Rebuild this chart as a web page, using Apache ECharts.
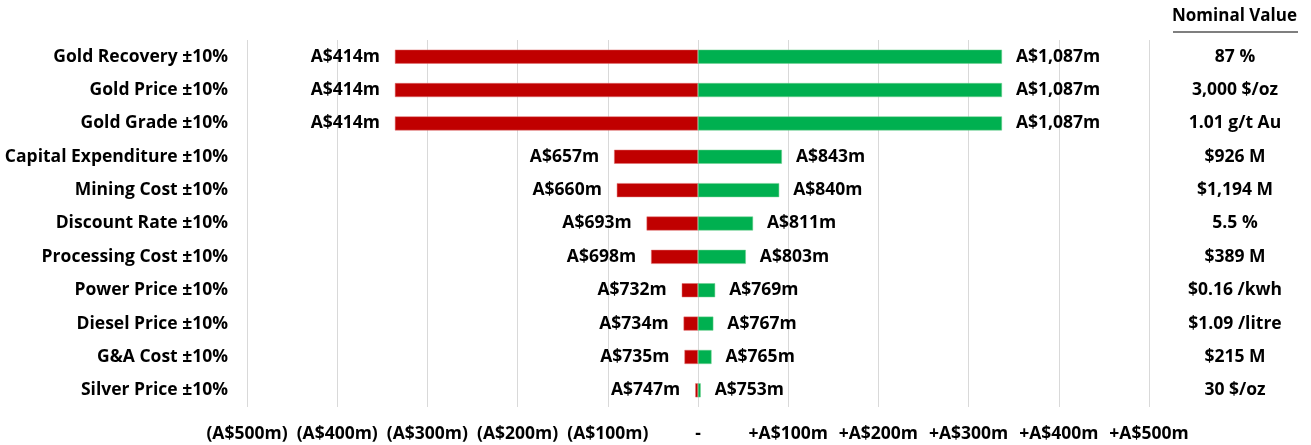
<!DOCTYPE html>
<html>
<head>
<meta charset="utf-8">
<script src="https://cdn.jsdelivr.net/npm/echarts@6/dist/echarts.min.js"></script>
<style>
  html, body { margin: 0; padding: 0; background: #fff; }
  #chart { width: 1311px; height: 445px; }
</style>
</head>
<body>
<div id="chart"></div>
<script>
// NPV sensitivity (A$m) for each driver flexed by ±10%
const baseNpv = 750;
const drivers = [
  'Gold Recovery ±10%', 'Gold Price ±10%', 'Gold Grade ±10%',
  'Capital Expenditure ±10%', 'Mining Cost ±10%', 'Discount Rate ±10%',
  'Processing Cost ±10%', 'Power Price ±10%', 'Diesel Price ±10%',
  'G&A Cost ±10%', 'Silver Price ±10%'
];
const lowNpv  = [414, 414, 414, 657, 660, 693, 698, 732, 734, 735, 747];
const highNpv = [1087, 1087, 1087, 843, 840, 811, 803, 769, 767, 765, 753];
const nominalValues = [
  '87 %', '3,000 $/oz', '1.01 g/t Au', '$926 M', '$1,194 M', '5.5 %',
  '$389 M', '$0.16 /kwh', '$1.09 /litre', '$215 M', '30 $/oz'
];
const axisTicks = [-500, -400, -300, -200, -100, 0, 100, 200, 300, 400, 500];

const FONT = '"Open Sans", sans-serif';
const FS = 17.5;
const fmtM = v => 'A$' + v.toLocaleString('en-US') + 'm';
const fmtTick = v => v < 0 ? '(A$' + (-v) + 'm)' : (v === 0 ? '-' : '+A$' + v + 'm');

const chart = echarts.init(document.getElementById('chart'));
chart.setOption({
  animation: false,
  grid: { left: 247, right: 162, top: 40, bottom: 38, containLabel: false },
  xAxis: {
    type: 'value',
    min: axisTicks[0],
    max: axisTicks[axisTicks.length - 1],
    interval: 100,
    axisLine: { show: false },
    axisTick: { show: false },
    splitLine: { show: true, lineStyle: { color: '#d9d9d9', width: 1 } },
    axisLabel: {
      formatter: fmtTick,
      color: '#000', fontFamily: FONT, fontWeight: 'bold', fontSize: FS, margin: 18
    }
  },
  yAxis: [
    {
      type: 'category',
      data: drivers,
      inverse: true,
      axisLine: { show: false },
      axisTick: { show: false },
      axisLabel: { color: '#000', fontFamily: FONT, fontWeight: 'bold', fontSize: FS, margin: 19 }
    },
    {
      type: 'category',
      data: nominalValues,
      inverse: true,
      position: 'right',
      axisLine: { show: false },
      axisTick: { show: false },
      axisLabel: { color: '#000', fontFamily: FONT, fontWeight: 'bold', fontSize: FS, margin: 86, align: 'center' }
    }
  ],
  series: [
    {
      name: 'Low',
      type: 'bar',
      barWidth: 14,
      barGap: '-100%',
      data: lowNpv.map(v => v - baseNpv),
      itemStyle: { color: '#C00000', borderColor: '#e07070', borderWidth: 0.5 },
      label: {
        show: true, position: 'left', distance: 15,
        formatter: p => fmtM(lowNpv[p.dataIndex]),
        color: '#000', fontFamily: FONT, fontWeight: 'bold', fontSize: FS
      }
    },
    {
      name: 'High',
      type: 'bar',
      barWidth: 14,
      barGap: '-100%',
      data: highNpv.map(v => v - baseNpv),
      itemStyle: { color: '#00B050', borderColor: '#70d090', borderWidth: 0.5 },
      label: {
        show: true, position: 'right', distance: 14,
        formatter: p => fmtM(highNpv[p.dataIndex]),
        color: '#000', fontFamily: FONT, fontWeight: 'bold', fontSize: FS
      }
    }
  ],
  graphic: [
    {
      type: 'text', left: 1172, top: 8,
      style: { text: 'Nominal Value', fill: '#000', font: 'bold 17px ' + FONT }
    },
    {
      type: 'line',
      shape: { x1: 1173, y1: 32, x2: 1298, y2: 32 },
      style: { stroke: '#000', lineWidth: 1.2 }
    }
  ]
});
</script>
</body>
</html>
